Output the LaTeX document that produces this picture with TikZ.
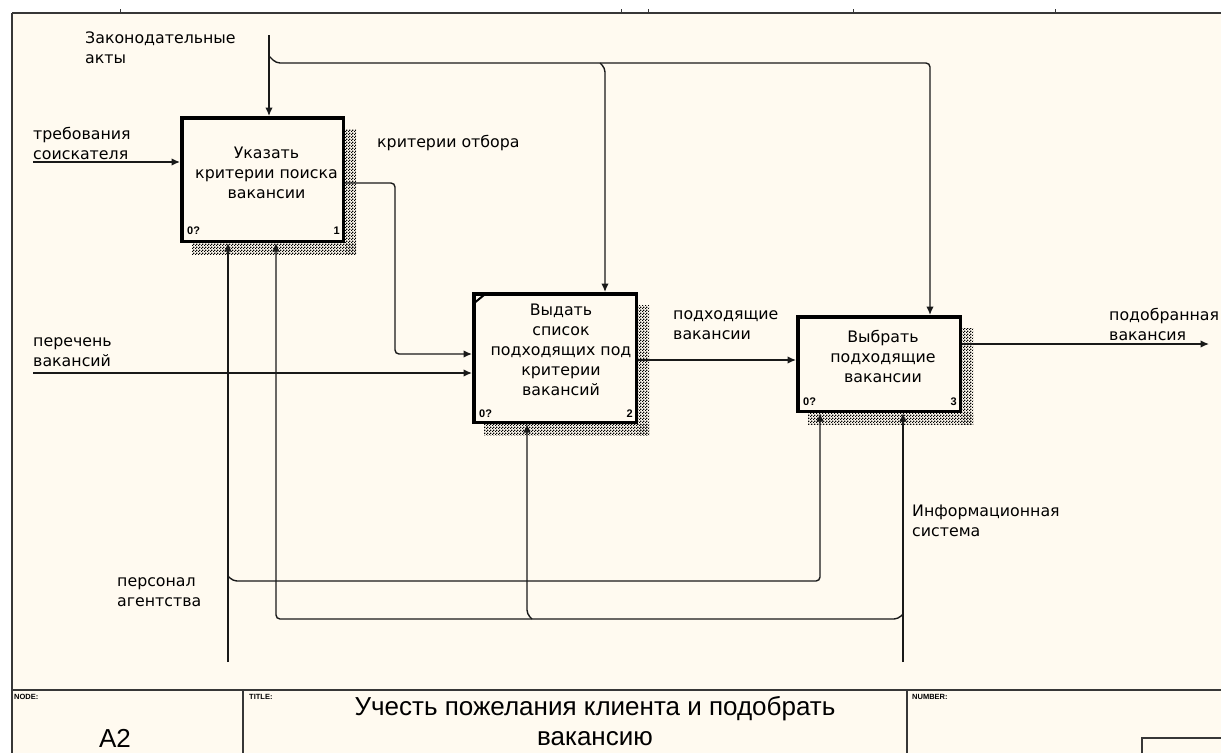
\documentclass[tikz,border=0pt]{standalone}
\usepackage{fontspec}
\setmainfont{Liberation Sans}
\newfontfamily\lblfont{DejaVu Sans}
\usetikzlibrary{arrows.meta,patterns,calc}
\definecolor{cream}{RGB}{255,250,240}
\definecolor{framec}{RGB}{55,55,55}
\pgfdeclarepatternformonly{idefdots}{\pgfqpoint{0pt}{0pt}}{\pgfqpoint{3pt}{3pt}}{\pgfqpoint{3pt}{3pt}}{%
  \pgfpathrectangle{\pgfqpoint{0pt}{0pt}}{\pgfqpoint{1.5pt}{1.5pt}}%
  \pgfpathrectangle{\pgfqpoint{1.5pt}{1.5pt}}{\pgfqpoint{1.5pt}{1.5pt}}%
  \pgfusepath{fill}}
\begin{document}
\begin{tikzpicture}[x=1pt,y=-1pt,
  conn/.style={line width=1.4pt, draw=black!90, rounded corners=4pt},
  arr/.style={conn, -{Latex[length=8.5pt,width=7.5pt]}},
  fnbox/.style={draw=black, line width=3.5pt, fill=cream, inner sep=0pt},
  shade/.style={pattern=idefdots, pattern color=black},
  boxtxt/.style={align=center, inner sep=0pt, font=\lblfont\fontsize{15.8}{20}\selectfont},
  lbl/.style={align=left, inner sep=0pt, anchor=north west, font=\lblfont\fontsize{15.8}{20}\selectfont},
  small/.style={inner sep=0pt, font=\fontsize{11}{12}\selectfont\bfseries},
  tiny/.style={inner sep=0pt, anchor=north west, font=\fontsize{7.5}{9}\selectfont\bfseries},
  titlef/.style={inner sep=0pt, anchor=base, font=\fontsize{26}{30}\selectfont},
  framel/.style={draw=framec, line width=2pt}]
\useasboundingbox (0,0) rectangle (1221,753);
\fill[white] (0,0) rectangle (1221,753);
\fill[cream] (12,13) rectangle (1221,753);

% frame
\draw[framel] (12,13) -- (1221,13);
\draw[framel] (12,13) -- (12,753);
\draw[framel] (12,690) -- (1221,690);
\draw[framel] (243,690) -- (243,753);
\draw[framel] (907,690) -- (907,753);
\draw[draw=framec, line width=1.5pt] (1142,753) -- (1142,738) -- (1221,738);
\foreach \tx in {120,621,648,853,1055} \draw[framec, line width=1pt] (\tx,9) -- (\tx,13);

% title block texts
\node[tiny] (nodelbl) at (14,694) {NODE:};
\node[tiny] (titlelbl) at (249,694) {TITLE:};
\node[tiny] (numlbl) at (912,694) {NUMBER:};
\node[titlef] (nodeval) at (115,747) {A2};
\node[titlef] (title1) at (595,715) {Учесть пожелания клиента и подобрать};
\node[titlef] (title2) at (595,745) {вакансию};

% boxes (shapes)
\node[fnbox, minimum width=161.5pt, minimum height=123.5pt] (b1) at (262.5,179.5) {};
\node[fnbox, minimum width=162.5pt, minimum height=128.5pt] (b2) at (555,358) {};
\node[fnbox, minimum width=162.5pt, minimum height=94.5pt] (b3) at (879,364) {};

% shadows
\foreach \b in {b1,b2,b3}{
  \fill[shade] ($(\b.north east)+(0,13)$) rectangle ($(\b.south east)+(11,11)$);
  \fill[shade] ($(\b.south west)+(12,0)$) rectangle ($(\b.south east)+(11,11)$);
}
% redraw boxes on top of shadows
\draw[line width=3.5pt, fill=cream] ($(b1.north west)+(1.75,1.75)$) rectangle ($(b1.south east)+(-1.75,-1.75)$);
\draw[line width=3.5pt, fill=cream] ($(b2.north west)+(1.75,1.75)$) rectangle ($(b2.south east)+(-1.75,-1.75)$);
\draw[line width=3.5pt, fill=cream] ($(b3.north west)+(1.75,1.75)$) rectangle ($(b3.south east)+(-1.75,-1.75)$);
\draw[line width=2pt] ($(b2.north west)+(3.5,10)$) -- ($(b2.north west)+(12,3)$);

% box texts
\node[boxtxt, anchor=north] (t1) at ($(b1.north)+(4,31)$) {Указать\\критерии поиска\\вакансии};
\node[boxtxt, anchor=north] (t2) at ($(b2.north)+(6,12)$) {Выдать\\список\\подходящих под\\критерии\\вакансий};
\node[boxtxt, anchor=north] (t3) at ($(b3.north)+(4,15)$) {Выбрать\\подходящие\\вакансии};
\node[small, anchor=base west] (n1a) at ($(b1.south west)+(7,-9)$) {0?};
\node[small, anchor=base east] (n1b) at ($(b1.south east)+(-5,-9)$) {1};
\node[small, anchor=base west] (n2a) at ($(b2.south west)+(7,-7)$) {0?};
\node[small, anchor=base east] (n2b) at ($(b2.south east)+(-5,-7)$) {2};
\node[small, anchor=base west] (n3a) at ($(b3.south west)+(7,-8)$) {0?};
\node[small, anchor=base east] (n3b) at ($(b3.south east)+(-5,-8)$) {3};

% labels
\node[lbl] (Llaw) at (85,32) {Законодательные\\акты};
\node[lbl] (Lreq) at (33,127) {требования\\соискателя};
\node[lbl] (Lcrit) at (377,135) {критерии отбора};
\node[lbl] (Llist) at (33,337) {перечень\\вакансий};
\node[lbl] (Lfit) at (673,310) {подходящие\\вакансии};
\node[lbl] (Lout) at (1109,308) {подобранная\\вакансия};
\node[lbl] (Linfo) at (912,505) {Информационная\\система};
\node[lbl] (Lstaff) at (117,577) {персонал\\агентства};

% coordinates for free ends
\coordinate (lawtop) at (269,35);
\coordinate (reqin) at (33,162);
\coordinate (listin) at (33,373);
\coordinate (outend) at (1209,344);
\coordinate (staffbot) at (228,662);
\coordinate (infobot) at (903,662);

% controls
\draw[arr] (lawtop) -- (lawtop |- b1.north);
\draw[arr] (269,56) -- (276,63) -- (930,63) -- (930,63 |- b3.north);
\draw[arr] (600,63) -- (605,68) -- (605,68 |- b2.north);

% inputs
\draw[arr] (reqin) -- (reqin -| b1.west);
\draw[arr] (listin) -- (listin -| b2.west);
\draw[arr] (b1.east |- 0,183) -- (395,183) -- (395,354) -- (b2.west |- 0,354);
\draw[arr] (b2.east |- 0,360) -- (b3.west |- 0,360);
\draw[arr] (b3.east |- 0,344) -- (outend);

% mechanisms
\draw[arr] (staffbot) -- (staffbot |- b1.south);
\draw[arr] (228,576) -- (233,581) -- (820,581) -- (820,581 |- b3.south);
\draw[arr] (infobot) -- (infobot |- b3.south);
\draw[arr] (903,614) -- (898,619) -- (276,619) -- (276,619 |- b1.south);
\draw[arr] (532,619) -- (527,614) -- (527,614 |- b2.south);
\end{tikzpicture}
\end{document}
